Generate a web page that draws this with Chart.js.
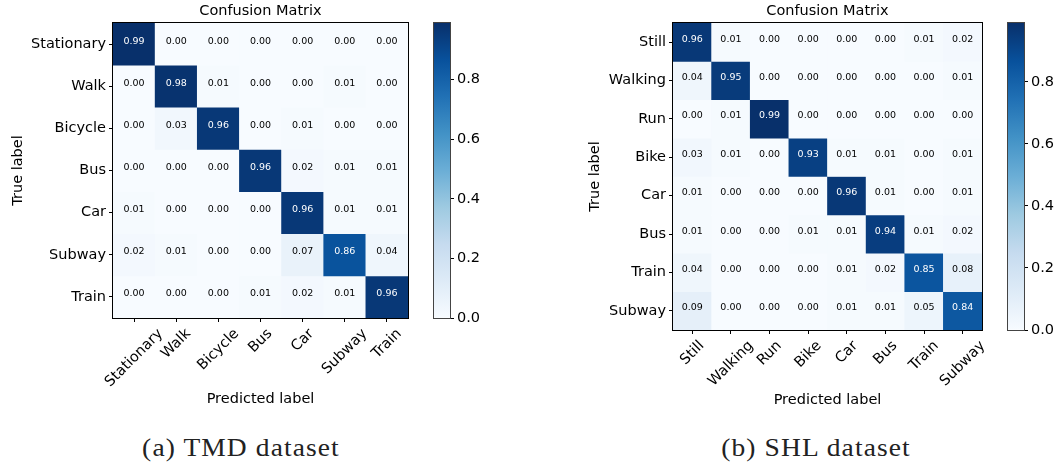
<!DOCTYPE html>
<html>
<head>
<meta charset="utf-8">
<script src="https://cdn.jsdelivr.net/npm/chart.js@4.4.1/dist/chart.umd.min.js"></script>
<style>
  html, body { margin: 0; padding: 0; background: #fff; }
  #fig { position: relative; width: 1057px; height: 465px; overflow: hidden; background: #fff; }
  canvas { position: absolute; }
  .cap {
    position: absolute; width: 300px; text-align: center;
    font-family: 'Liberation Serif', serif; font-size: 25px; line-height: 25px;
    letter-spacing: 1px; color: #222; transform: scaleX(1.1);
  }
</style>
</head>
<body>
<div id="fig">
  <canvas id="tmdMatrix" width="430" height="420" style="left:0;top:0"></canvas>
  <canvas id="tmdBar" width="80" height="340" style="left:420px;top:0"></canvas>
  <canvas id="shlMatrix" width="470" height="420" style="left:540px;top:0"></canvas>
  <canvas id="shlBar" width="63" height="350" style="left:994px;top:0"></canvas>
  <div class="cap" style="left:91px;top:435px">(a) TMD dataset</div>
  <div class="cap" style="left:666px;top:435px">(b) SHL dataset</div>
</div>
<script>
// Class names (rows = true label, columns = predicted label)
const tmdClasses = ['Stationary', 'Walk', 'Bicycle', 'Bus', 'Car', 'Subway', 'Train'];
const tmdValues = [
  [0.99, 0.00, 0.00, 0.00, 0.00, 0.00, 0.00],
  [0.00, 0.98, 0.01, 0.00, 0.00, 0.01, 0.00],
  [0.00, 0.03, 0.96, 0.00, 0.01, 0.00, 0.00],
  [0.00, 0.00, 0.00, 0.96, 0.02, 0.01, 0.01],
  [0.01, 0.00, 0.00, 0.00, 0.96, 0.01, 0.01],
  [0.02, 0.01, 0.00, 0.00, 0.07, 0.86, 0.04],
  [0.00, 0.00, 0.00, 0.01, 0.02, 0.01, 0.96]
];

const shlClasses = ['Still', 'Walking', 'Run', 'Bike', 'Car', 'Bus', 'Train', 'Subway'];
const shlValues = [
  [0.96, 0.01, 0.00, 0.00, 0.00, 0.00, 0.01, 0.02],
  [0.04, 0.95, 0.00, 0.00, 0.00, 0.00, 0.00, 0.01],
  [0.00, 0.01, 0.99, 0.00, 0.00, 0.00, 0.00, 0.00],
  [0.03, 0.01, 0.00, 0.93, 0.01, 0.01, 0.00, 0.01],
  [0.01, 0.00, 0.00, 0.00, 0.96, 0.01, 0.00, 0.01],
  [0.01, 0.00, 0.00, 0.01, 0.01, 0.94, 0.01, 0.02],
  [0.04, 0.00, 0.00, 0.00, 0.01, 0.02, 0.85, 0.08],
  [0.09, 0.00, 0.00, 0.00, 0.01, 0.01, 0.05, 0.84]
];

const colorbarTicks = [0.0, 0.2, 0.4, 0.6, 0.8];

Chart.defaults.font.family = "'DejaVu Sans', sans-serif";
Chart.defaults.color = '#000';

// Sequential "Blues" colormap
const BLUES = ['#f7fbff', '#deebf7', '#c6dbef', '#9ecae1', '#6baed6', '#4292c6', '#2171b5', '#08519c', '#08306b'];
const BLUES_RGB = BLUES.map(h => { const n = parseInt(h.slice(1), 16); return [(n >> 16) & 255, (n >> 8) & 255, n & 255]; });
function blues(t) {
  t = Math.max(0, Math.min(1, t));
  const p = t * (BLUES_RGB.length - 1);
  const i = Math.min(Math.floor(p), BLUES_RGB.length - 2);
  const f = p - i;
  const a = BLUES_RGB[i], b = BLUES_RGB[i + 1];
  return 'rgb(' + a.map((v, k) => Math.round(v + (b[k] - v) * f)).join(',') + ')';
}
const maxOf = m => Math.max(...m.flat());

// Thin outline around the plotting area
const framePlugin = {
  id: 'frame',
  afterDraw(chart, args, opts) {
    const a = chart.chartArea, ctx = chart.ctx;
    const l = Math.floor(a.left) - 0.5, t = Math.floor(a.top) - 0.5;
    const r = Math.ceil(a.right) + 0.5, b = Math.ceil(a.bottom) + 0.5;
    ctx.save();
    ctx.strokeStyle = opts.color || '#000';
    ctx.lineWidth = 1;
    ctx.strokeRect(l, t, r - l, b - t);
    ctx.restore();
  }
};

// Value printed in each cell
const cellTextPlugin = {
  id: 'cellText',
  afterDatasetsDraw(chart, args, opts) {
    const ctx = chart.ctx;
    ctx.save();
    ctx.font = "9.5px 'DejaVu Sans'";
    ctx.textAlign = 'center';
    ctx.textBaseline = 'middle';
    chart.data.datasets.forEach((ds, i) => {
      chart.getDatasetMeta(i).data.forEach((bar, j) => {
        const v = opts.values[i][j];
        const p = bar.getProps(['x', 'y', 'base'], true);
        ctx.fillStyle = v > opts.max / 2 ? '#fff' : '#000';
        ctx.fillText(v.toFixed(2), p.x, (p.y + p.base) / 2 - 3);
      });
    });
    ctx.restore();
  }
};

// 45-degree category labels centred under each tick
const rotatedLabelsPlugin = {
  id: 'rotLabels',
  afterDraw(chart, args, opts) {
    const sc = chart.scales.x, ctx = chart.ctx;
    const size = opts.size;
    ctx.save();
    ctx.font = size + "px 'DejaVu Sans'";
    ctx.fillStyle = '#000';
    ctx.textAlign = 'center';
    ctx.textBaseline = 'middle';
    const h = size * 1.17;
    chart.data.labels.forEach((label, i) => {
      const w = ctx.measureText(label).width;
      const half = (w + h) * Math.SQRT1_2 / 2;
      const x = sc.getPixelForTick(i);
      const y = sc.top + opts.gap + half;
      ctx.save();
      ctx.translate(x, y);
      ctx.rotate(-Math.PI / 4);
      ctx.fillText(label, 0, 0);
      ctx.restore();
    });
    ctx.restore();
  }
};

function makeMatrix(id, classes, values, cfg) {
  const vmax = maxOf(values);
  const datasets = values.map((row, i) => ({
    data: row.map(() => [i, i + 1]),
    backgroundColor: row.map(v => blues(v / vmax)),
    borderWidth: 0,
    grouped: false,
    barPercentage: 1,
    categoryPercentage: 1
  }));
  return new Chart(document.getElementById(id), {
    type: 'bar',
    data: { labels: classes, datasets },
    options: {
      responsive: false,
      animation: false,
      events: [],
      layout: { padding: { left: 0, right: cfg.padRight, top: 0, bottom: 0 } },
      plugins: {
        legend: { display: false },
        tooltip: { enabled: false },
        title: {
          display: true, text: 'Confusion Matrix', fullSize: false,
          font: { size: 14.5, weight: 'normal', lineHeight: '15px' },
          padding: { top: 4, bottom: 4 }, color: '#000'
        },
        cellText: { values, max: vmax },
        rotLabels: { size: 14.5, gap: 7.5 },
        frame: { color: '#000' }
      },
      scales: {
        x: {
          type: 'category',
          offset: true,
          grid: { offset: false, drawOnChartArea: false, tickLength: 4, color: '#000' },
          border: { display: false },
          ticks: { display: false },
          title: {
            display: true, text: 'Predicted label',
            font: { size: 14.5 }, padding: { top: 0, bottom: cfg.xTitlePad }
          },
          afterFit: sc => { sc.height = cfg.xAxisHeight; }
        },
        y: {
          type: 'linear',
          min: 0, max: classes.length, reverse: true,
          afterBuildTicks: sc => { sc.ticks = classes.map((_, i) => ({ value: i + 0.5 })); },
          afterFit: sc => { sc.width = cfg.yAxisWidth; },
          grid: { drawOnChartArea: false, tickLength: 4, color: '#000' },
          border: { display: false },
          ticks: {
            padding: 3, font: { size: 14.5 }, color: '#000',
            callback: (v, i) => classes[i]
          },
          title: {
            display: true, text: 'True label',
            font: { size: 14.5 }, padding: { top: cfg.yTitlePad, bottom: 0 }
          }
        }
      }
    },
    plugins: [cellTextPlugin, rotatedLabelsPlugin, framePlugin]
  });
}

function makeColorbar(id, vmax, cfg) {
  return new Chart(document.getElementById(id), {
    type: 'bar',
    data: {
      labels: [''],
      datasets: [{
        data: [[0, vmax]],
        backgroundColor: ctx => {
          const a = ctx.chart.chartArea;
          if (!a) return BLUES[0];
          const g = ctx.chart.ctx.createLinearGradient(0, a.bottom, 0, a.top);
          BLUES.forEach((c, k) => g.addColorStop(k / (BLUES.length - 1), c));
          return g;
        },
        borderWidth: 0,
        barPercentage: 1,
        categoryPercentage: 1
      }]
    },
    options: {
      responsive: false,
      animation: false,
      events: [],
      layout: { padding: { left: 14, right: 0, top: 23, bottom: cfg.padBottom } },
      plugins: {
        legend: { display: false },
        tooltip: { enabled: false },
        frame: { color: '#444' }
      },
      scales: {
        x: { display: false },
        y: {
          position: 'right',
          min: 0, max: vmax,
          afterBuildTicks: sc => { sc.ticks = colorbarTicks.map(v => ({ value: v })); },
          afterFit: sc => { sc.width = cfg.axisWidth; },
          grid: { drawOnChartArea: false, tickLength: 4, color: '#000' },
          border: { display: false },
          ticks: { padding: 3, font: { size: 14.5 }, color: '#000', callback: v => v.toFixed(1) }
        }
      }
    },
    plugins: [framePlugin]
  });
}

makeMatrix('tmdMatrix', tmdClasses, tmdValues,
  { yAxisWidth: 113, xAxisHeight: 102, padRight: 22, yTitlePad: 9.6, xTitlePad: 12.3 });
makeColorbar('tmdBar', maxOf(tmdValues), { padBottom: 22, axisWidth: 50 });

makeMatrix('shlMatrix', shlClasses, shlValues,
  { yAxisWidth: 133, xAxisHeight: 90, padRight: 28, yTitlePad: 46.3, xTitlePad: 11.3 });
makeColorbar('shlBar', maxOf(shlValues), { padBottom: 20, axisWidth: 33 });
</script>
</body>
</html>
